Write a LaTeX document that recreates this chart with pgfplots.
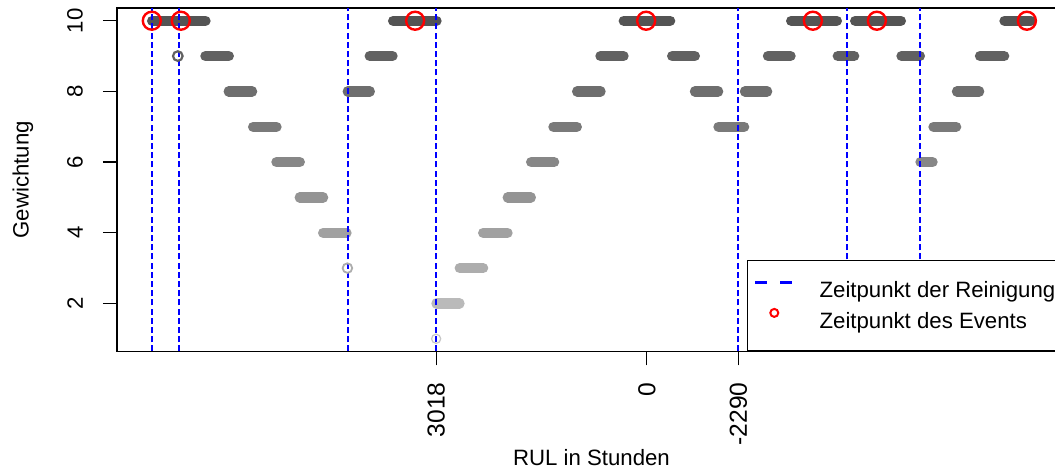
\documentclass[border=0pt]{standalone}
\usepackage{fontspec}
\setmainfont{Liberation Sans}
\usepackage{pgfplots}
\pgfplotsset{compat=1.18}
\newcommand{\fs}{\fontsize{11.1}{13.3}\selectfont}
\newcommand{\fx}{\fontsize{12.3}{14}\selectfont}
\definecolor{w10}{gray}{0.33}
\definecolor{w9}{gray}{0.38}
\definecolor{w8}{gray}{0.43}
\definecolor{w7}{gray}{0.48}
\definecolor{w6}{gray}{0.53}
\definecolor{w5}{gray}{0.58}
\definecolor{w4}{gray}{0.63}
\definecolor{w3}{gray}{0.68}
\definecolor{w2}{gray}{0.73}
\definecolor{w1}{gray}{0.78}
\definecolor{rblue}{RGB}{0,0,255}
\pgfplotsset{cleanline/.style={draw=rblue, line width=1pt, dash pattern=on 3pt off 1.6pt, forget plot}}
\begin{document}
\begin{tikzpicture}
\path[use as bounding box] (0,0) rectangle (527.5pt,235.5pt);
\clip (0,0) rectangle (527.5pt,235.5pt);
\begin{axis}[
  at={(58.5pt,59.75pt)}, anchor=south west,
  scale only axis, width=474.5pt, height=171.75pt,
  xmin=116.9, xmax=1065.8, ymin=0.64, ymax=10.36,
  axis line style={black, line width=0.7pt},
  xtick={436,646.7,738.3}, xticklabels={3018,0,-2290},
  ytick={2,4,6,8,10}, yticklabels={2,4,6,8,10},
  tick align=outside, tick pos=left,
  major tick length=7pt,
  tick style={black, line width=0.6pt},
  tick label style={font=\fs, inner sep=0pt},
  xticklabel style={rotate=90, anchor=east, font=\fx},
  yticklabel style={rotate=90, anchor=south},
  xticklabel shift=8.25pt, yticklabel shift=9.85pt,
  xlabel={RUL in Stunden}, ylabel={Gewichtung},
  every axis x label/.style={at={(axis description cs:0.5,-0.3333)}, anchor=base, font=\fs, inner sep=0pt},
  every axis y label/.style={at={(axis description cs:-0.0932,0.5)}, rotate=90, anchor=base, font=\fs, inner sep=0pt},
  legend style={at={(axis description cs:0.66386,0)}, anchor=south west, draw=black, line width=0.6pt, fill=white, font=\fs,
    inner xsep=3pt, inner ysep=7.4pt, row sep=0pt, column sep=13pt,
    nodes={inner sep=0pt, text height=11.25pt, text depth=3.95pt}},
  legend cell align=left,
  unbounded coords=jump,
]
% weight 10
\addplot[w10, line width=5.15pt, line cap=round, forget plot] coordinates {
 (152,10) (205.4,10) (300,nan) (393,10) (436.4,10) (500,nan) (623.6,10) (670,10) (700,nan)
 (791,10) (836.7,10) (845,nan) (855,10) (900.7,10) (950,nan) (1004.3,10) (1030.7,10)};
% weight 9
\addplot[w9, line width=5.15pt, line cap=round, forget plot] coordinates {
 (205.3,9) (228.7,9) (300,nan) (369.6,9) (392.4,9) (500,nan) (600.3,9) (623.4,9) (650,nan)
 (672,9) (694.7,9) (720,nan) (767.8,9) (790.4,9) (810,nan) (837.6,9) (854,9) (870,nan)
 (901.3,9) (919.7,9) (950,nan) (979.8,9) (1004,9)};
% weight 8
\addplot[w8, line width=5.15pt, line cap=round, forget plot] coordinates {
 (228.6,8) (252,8) (300,nan) (347.6,8) (369.7,8) (500,nan) (577,8) (600.4,8) (650,nan)
 (694.8,8) (718,8) (730,nan) (744.8,8) (767,8) (850,nan) (956.8,8) (979,8)};
% weight 7
\addplot[w7, line width=5.15pt, line cap=round, forget plot] coordinates {
 (253,7) (276.4,7) (400,nan) (553.3,7) (576.7,7) (650,nan) (718.3,7) (744,7) (850,nan) (933.3,7) (956,7)};
% weight 6
\addplot[w6, line width=5.15pt, line cap=round, forget plot] coordinates {
 (276.3,6) (299.7,6) (400,nan) (531,6) (554,6) (700,nan) (920.3,6) (932.4,6)};
% weight 5
\addplot[w5, line width=5.15pt, line cap=round, forget plot] coordinates {
 (299.6,5) (323,5) (400,nan) (507.6,5) (530.7,5)};
% weight 4
\addplot[w4, line width=5.15pt, line cap=round, forget plot] coordinates {
 (323,4) (346.4,4) (400,nan) (483,4) (507.4,4)};
% weight 3
\addplot[w3, line width=5.15pt, line cap=round, forget plot] coordinates {
 (459.6,3) (483,3)};
% weight 2
\addplot[w2, line width=5.15pt, line cap=round, forget plot] coordinates {
 (436.3,2) (459.4,2)};
% single points
\addplot[only marks, mark=o, mark size=2.4pt, mark options={draw=w9, line width=1.1pt}, forget plot] coordinates {(177.7,9)};
\addplot[only marks, mark=o, mark size=2.4pt, mark options={draw=w3, line width=0.9pt}, forget plot] coordinates {(347.3,3)};
\addplot[only marks, mark=o, mark size=2.3pt, mark options={draw=w1, line width=0.6pt}, forget plot] coordinates {(436,1)};
% cleaning times
\addplot[cleanline] coordinates {(151.7,0.64) (151.7,10.36)};
\addplot[cleanline] coordinates {(179.3,0.64) (179.3,10.36)};
\addplot[cleanline] coordinates {(347.7,0.64) (347.7,10.36)};
\addplot[cleanline] coordinates {(436,0.64) (436,10.36)};
\addplot[cleanline] coordinates {(738.3,0.64) (738.3,10.36)};
\addplot[cleanline] coordinates {(847.3,0.64) (847.3,10.36)};
\addplot[cleanline] coordinates {(919.7,0.64) (919.7,10.36)};
% events
\addplot[only marks, mark=o, mark size=4.5pt, mark options={draw=red, line width=1.2pt}, forget plot] coordinates {
 (151.7,10) (180.7,10) (415,10) (646,10) (812.7,10) (876.7,10) (1026.7,10)};
\addlegendimage{legend image code/.code={\draw[rblue, line width=1.5pt, dash pattern=on 6pt off 6.5pt] (0,4pt) -- (18.5pt,4pt);}}
\addlegendentry{Zeitpunkt der Reinigung}
\addlegendimage{legend image code/.code={\path (0,4pt) (18.5pt,4pt); \draw[red, line width=1pt] (9.6pt,4pt) circle (2pt);}}
\addlegendentry{Zeitpunkt des Events}
\end{axis}
\end{tikzpicture}
\end{document}
